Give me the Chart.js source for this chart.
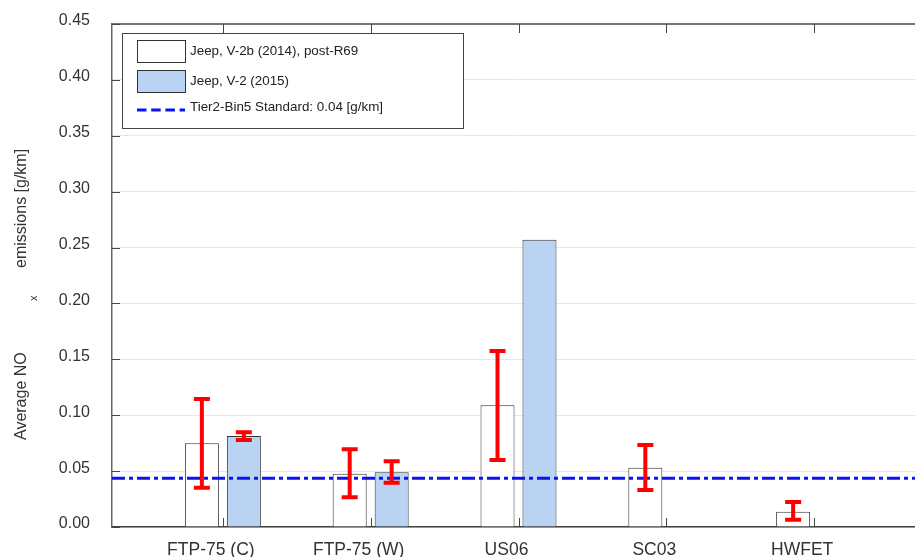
<!DOCTYPE html>
<html>
<head>
<meta charset="utf-8">
<script src="https://cdn.jsdelivr.net/npm/chart.js@4.4.1/dist/chart.umd.min.js"></script>
<style>
    html, body { margin: 0; padding: 0; background: #fff; overflow: hidden; }
    #wrap { position: relative; width: 940px; height: 557px; }
</style>
</head>
<body>
<div id="wrap"><canvas id="chart"></canvas></div>
<script>
        // Chart data
        const categories = ['FTP-75 (C)', 'FTP-75 (W)', 'US06', 'SC03', 'HWFET'];
        const jeep2014 = [0.075, 0.0477, 0.109, 0.0531, 0.0137];
        const jeep2014Low = [0.0352, 0.0266, 0.0599, 0.0331, 0.0065];
        const jeep2014High = [0.1145, 0.0695, 0.1575, 0.0734, 0.0224];
        const jeep2015 = [0.0814, 0.0489, 0.257, 0, 0];
        const jeep2015Low = [0.0778, 0.0396, null, null, null];
        const jeep2015High = [0.0847, 0.0588, null, null, null];
        const standardLimit = 0.0436;
        const yTickValues = [0, 0.05, 0.10, 0.15, 0.20, 0.25, 0.30, 0.35, 0.40, 0.45];

        const FONT = '"Liberation Sans", Arial, sans-serif';
        const errorBars = [[jeep2014Low, jeep2014High], [jeep2015Low, jeep2015High]];

        // x position of each category on the linear axis
        function catPoints(values) {
            return values.map((v, i) => ({ x: i + 1, y: v }));
        }

        // Frame: top border and inward tick marks
        const framePlugin = {
            id: 'frame',
            afterDraw(chart) {
                const ctx = chart.ctx;
                const area = chart.chartArea;
                const xs = chart.scales.x;
                const ys = chart.scales.y;
                ctx.save();
                ctx.strokeStyle = '#777';
                ctx.lineWidth = 2;
                ctx.beginPath();
                ctx.moveTo(area.left, area.top);
                ctx.lineTo(area.right, area.top);
                ctx.stroke();
                ctx.strokeStyle = '#444';
                ctx.lineWidth = 1;
                ctx.beginPath();
                categories.forEach((c, i) => {
                    const px = Math.round(xs.getPixelForValue(i + 1)) + 0.5;
                    ctx.moveTo(px, area.bottom);
                    ctx.lineTo(px, area.bottom - 9);
                    ctx.moveTo(px, area.top);
                    ctx.lineTo(px, area.top + 9);
                });
                yTickValues.forEach(v => {
                    const py = Math.round(ys.getPixelForValue(v)) + 0.5;
                    ctx.moveTo(area.left, py);
                    ctx.lineTo(area.left + 8, py);
                });
                ctx.stroke();
                ctx.restore();
            }
        };

        // Red error bars on top of the bars
        const errorBarPlugin = {
            id: 'errorBars',
            afterDatasetsDraw(chart) {
                const ctx = chart.ctx;
                const ys = chart.scales.y;
                ctx.save();
                ctx.strokeStyle = '#ff0000';
                ctx.lineWidth = 4;
                errorBars.forEach((pair, d) => {
                    const meta = chart.getDatasetMeta(d);
                    pair[0].forEach((low, i) => {
                        const high = pair[1][i];
                        if (low === null || high === null) return;
                        const x = meta.data[i].x;
                        const yl = ys.getPixelForValue(low);
                        const yh = ys.getPixelForValue(high);
                        ctx.beginPath();
                        ctx.moveTo(x, yl);
                        ctx.lineTo(x, yh);
                        ctx.moveTo(x - 8, yl);
                        ctx.lineTo(x + 8, yl);
                        ctx.moveTo(x - 8, yh);
                        ctx.lineTo(x + 8, yh);
                        ctx.stroke();
                    });
                });
                ctx.restore();
            }
        };

        // Boxed legend in the top left corner of the plot
        const boxLegendPlugin = {
            id: 'boxLegend',
            afterDraw(chart) {
                const ctx = chart.ctx;
                const sets = chart.data.datasets;
                ctx.save();
                ctx.fillStyle = '#fff';
                ctx.fillRect(122.5, 33.5, 341, 95);
                ctx.strokeStyle = '#444';
                ctx.lineWidth = 1;
                ctx.strokeRect(122.5, 33.5, 341, 95);

                ctx.font = '13.4px ' + FONT;
                ctx.textBaseline = 'middle';
                ctx.textAlign = 'left';
                [0, 1].forEach((d, k) => {
                    const y = 40.5 + k * 30;
                    ctx.fillStyle = sets[d].backgroundColor;
                    ctx.fillRect(137.5, y, 48, 22);
                    ctx.strokeStyle = '#333';
                    ctx.strokeRect(137.5, y, 48, 22);
                    ctx.fillStyle = '#222';
                    ctx.fillText(sets[d].label, 190, y + 11);
                });
                ctx.strokeStyle = sets[2].borderColor;
                ctx.lineWidth = 3;
                ctx.setLineDash([9.5, 4.7]);
                ctx.beginPath();
                ctx.moveTo(137, 110);
                ctx.lineTo(185, 110);
                ctx.stroke();
                ctx.setLineDash([]);
                ctx.fillStyle = '#222';
                ctx.fillText(sets[2].label, 190, 107);
                ctx.restore();
            }
        };

        // Rotated y axis title with subscript x
        const yTitlePlugin = {
            id: 'yTitle',
            afterDraw(chart) {
                const ctx = chart.ctx;
                ctx.save();
                ctx.translate(26, 440);
                ctx.rotate(-Math.PI / 2);
                ctx.fillStyle = '#333';
                ctx.textAlign = 'left';
                ctx.textBaseline = 'alphabetic';
                ctx.font = '16px ' + FONT;
                ctx.fillText('Average NO', 0, 0);
                ctx.font = '11px ' + FONT;
                ctx.fillText('x', 139, 11);
                ctx.font = '16px ' + FONT;
                ctx.fillText('emissions [g/km]', 172, 0);
                ctx.restore();
            }
        };

        const ctx = document.getElementById('chart').getContext('2d');
        const chart = new Chart(ctx, {
            type: 'bar',
            data: {
                datasets: [{
                    label: 'Jeep, V-2b (2014), post-R69',
                    data: catPoints(jeep2014),
                    backgroundColor: '#ffffff',
                    borderColor: '#333333',
                    borderWidth: 1,
                    order: 1
                }, {
                    label: 'Jeep, V-2 (2015)',
                    data: catPoints(jeep2015),
                    backgroundColor: '#b9d4f2',
                    borderColor: '#333333',
                    borderWidth: 1,
                    order: 1
                }, {
                    type: 'line',
                    label: 'Tier2-Bin5 Standard: 0.04 [g/km]',
                    data: [{ x: 0.25, y: standardLimit }, { x: 5.75, y: standardLimit }],
                    borderColor: '#0a14f0',
                    borderWidth: 3,
                    borderDash: [13, 4, 4, 4],
                    pointRadius: 0,
                    order: 0
                }]
            },
            options: {
                responsive: true,
                maintainAspectRatio: false,
                devicePixelRatio: 1,
                animation: false,
                layout: { padding: { left: 0, top: 24, right: 15, bottom: 0 } },
                categoryPercentage: 0.568,
                barPercentage: 0.81,
                plugins: {
                    legend: { display: false },
                    tooltip: { enabled: false }
                },
                scales: {
                    x: {
                        type: 'linear',
                        min: 0.25,
                        max: 5.75,
                        offset: false,
                        grid: { display: false, offset: false },
                        border: { display: true, color: '#444', width: 1.5 },
                        afterBuildTicks: s => { s.ticks = categories.map((c, i) => ({ value: i + 1 })); },
                        afterFit: s => { s.height = 30; s.paddingLeft = 0; s.paddingRight = 0; },
                        ticks: {
                            autoSkip: false,
                            maxRotation: 0,
                            padding: 5,
                            labelOffset: -12,
                            color: '#333',
                            font: { family: FONT, size: 17.5 },
                            callback: v => categories[Math.round(v) - 1]
                        }
                    },
                    y: {
                        min: 0,
                        max: 0.45,
                        grid: { color: '#e6e6e6', drawTicks: false },
                        border: { display: true, color: '#666', width: 1.5 },
                        afterBuildTicks: s => { s.ticks = yTickValues.map(v => ({ value: v })); },
                        afterFit: s => { s.width = 112; s.paddingTop = 0; s.paddingBottom = 0; },
                        ticks: {
                            padding: 22,
                            labelOffset: -3,
                            color: '#333',
                            font: { family: FONT, size: 16 },
                            callback: v => v.toFixed(2)
                        }
                    }
                }
            },
            plugins: [errorBarPlugin, framePlugin, boxLegendPlugin, yTitlePlugin]
        });
</script>
</body>
</html>
